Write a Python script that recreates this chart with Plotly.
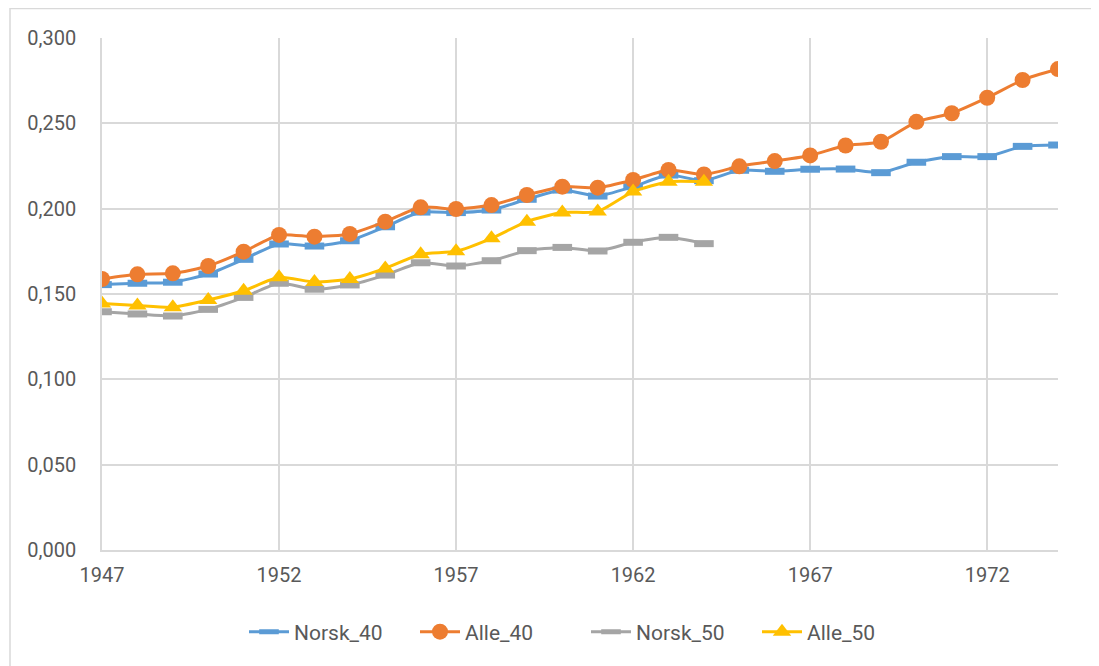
import plotly.graph_objects as go

years = list(range(1947, 1975))

norsk_40 = [0.1555, 0.1563, 0.1569, 0.1617, 0.1703, 0.1793, 0.1781, 0.1812, 0.1894, 0.1980,
            0.1977, 0.1992, 0.2055, 0.2109, 0.2074, 0.2129, 0.2197, 0.2164, 0.2225, 0.2219,
            0.2231, 0.2232, 0.2211, 0.2272, 0.2305, 0.2305, 0.2365, 0.2373]
alle_40 = [0.1588, 0.1615, 0.1621, 0.1664, 0.1748, 0.1846, 0.1836, 0.1852, 0.1924, 0.2008,
           0.1998, 0.2021, 0.2080, 0.2129, 0.2123, 0.2168, 0.2227, 0.2200, 0.2248, 0.2279,
           0.2312, 0.2370, 0.2392, 0.2509, 0.2559, 0.2650, 0.2754, 0.2818]
norsk_50 = [0.1396, 0.1383, 0.1371, 0.1410, 0.1480, 0.1563, 0.1528, 0.1553, 0.1611, 0.1683,
            0.1664, 0.1695, 0.1754, 0.1773, 0.1752, 0.1803, 0.1832, 0.1795] + [None] * 10
alle_50 = [0.1445, 0.1432, 0.1422, 0.1465, 0.1519, 0.1598, 0.1570, 0.1588, 0.1650, 0.1733,
           0.1750, 0.1826, 0.1924, 0.1977, 0.1983, 0.2100, 0.2158, 0.2158] + [None] * 10

series = [
    ("Norsk_40", norsk_40, "#5B9BD5", "line-ew", 14),
    ("Alle_40", alle_40, "#ED7D31", "circle", 16),
    ("Norsk_50", norsk_50, "#A5A5A5", "line-ew", 14),
    ("Alle_50", alle_50, "#FFC000", "triangle-up", 16),
]

fig = go.Figure()
for name, vals, color, sym, size in series:
    if sym == "line-ew":
        marker = dict(symbol=sym, size=size, color=color, line=dict(color=color, width=7))
    else:
        marker = dict(symbol=sym, size=size, color=color, line=dict(width=0))
    fig.add_trace(go.Scatter(
        x=years, y=vals, name=name, mode="lines+markers",
        line=dict(color=color, width=3, shape="spline", smoothing=0.6),
        marker=marker, connectgaps=False,
    ))

# the page body has an 8px margin; work in page pixels and shift
OFF = 8
W, H = 1099 - OFF, 666 - OFF
PL, PR, PT, PB = 102, 1058, 38, 550  # plot area in page pixels
L, R, T, B = PL - OFF, W - (PR - OFF), PT - OFF, H - (PB - OFF)
pw, ph = W - L - R, H - T - B

def px_x(x):
    return (x - OFF - L) / pw

def px_y(y):
    return (H - B - (y - OFF)) / ph

fig.add_shape(type="rect", xref="paper", yref="paper",
              x0=px_x(10), x1=px_x(1110), y0=px_y(680), y1=px_y(8.5),
              line=dict(color="#D9D9D9", width=1.5), fillcolor="rgba(0,0,0,0)", layer="below")

font_fam = "Roboto, 'Liberation Sans', sans-serif"
fig.update_layout(
    width=W, height=H,
    margin=dict(l=L, r=R, t=T, b=B),
    paper_bgcolor="white", plot_bgcolor="white",
    separators=", ",
    font=dict(family=font_fam, color="#595959", size=20),
    showlegend=True,
    legend=dict(orientation="h", x=px_x(586), xanchor="center", y=px_y(632), yanchor="middle",
                font=dict(size=21, color="#595959"), itemwidth=40, tracegroupgap=0,
                entrywidth=116, entrywidthmode="pixels"),
    xaxis=dict(range=[1947, 1974], tick0=1947, dtick=5, showgrid=True, gridcolor="#D9D9D9",
               gridwidth=1.5, showline=True, linecolor="#D9D9D9", linewidth=1.5,
               zeroline=False, ticks="", ticklabelstandoff=6, tickfont=dict(size=20)),
    yaxis=dict(range=[0, 0.3], dtick=0.05, tickformat=".3f", showgrid=True, gridcolor="#D9D9D9",
               gridwidth=1.5, showline=True, linecolor="#D9D9D9", linewidth=1.5,
               zeroline=False, ticks="", ticklabelstandoff=20, tickfont=dict(size=20)),
)

fig.write_html("out.html")
